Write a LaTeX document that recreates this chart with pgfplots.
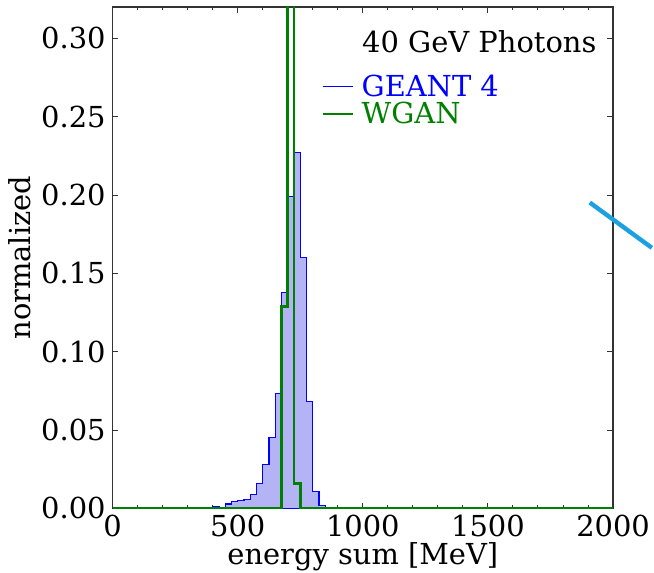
\documentclass[border=0pt]{standalone}
\usepackage{pgfplots}
\pgfplotsset{compat=1.18}
\usepackage{fontspec}
\setmainfont{DejaVu Serif}
\definecolor{mplgreen}{RGB}{0,128,0}
\definecolor{mplfill}{RGB}{179,179,245}
\definecolor{mplblue}{RGB}{0,0,255}
\definecolor{arrowblue}{RGB}{27,161,226}
\begin{document}
\begin{tikzpicture}
\begin{axis}[
  name=ax,
  scale only axis, width=251pt, height=251.5pt,
  xmin=0, xmax=2000, ymin=0, ymax=0.32,
  xtick={0,500,1000,1500,2000}, minor x tick num=4,
  ytick={0,0.05,0.10,0.15,0.20,0.25,0.30},
  tick align=inside, major tick length=2.8pt, minor tick length=1.6pt,
  tick style={black!80, line width=0.5pt},
  yticklabel style={/pgf/number format/fixed,/pgf/number format/fixed zerofill,/pgf/number format/precision=2},
  xticklabel style={/pgf/number format/1000 sep={}, inner xsep=0pt},
  /pgf/number format/assume math mode=true,
  tick label style={font=\fontsize{14.5}{17}\selectfont},
  label style={font=\fontsize{14.5}{17}\selectfont},
  xlabel={energy sum [MeV]}, ylabel={normalized},
  xlabel style={inner ysep=1pt, yshift=2pt},
  ylabel style={yshift=-1.5pt},
  axis line style={black!80, line width=0.6pt},
  legend style={draw=none, fill=none, at={(rel axis cs:0.416,0.874)}, anchor=north west,
    inner sep=0pt, font=\fontsize{14.5}{17}\selectfont, row sep=-2.5pt},
  legend cell align=left,
  clip mode=individual,
]
\addplot[const plot, draw=mplblue, line width=0.6pt, fill=mplfill,
  legend image code/.code={\draw[mplblue, line width=0.7pt] (0pt,0pt) -- (15.5pt,0pt);}]
 coordinates {
 (0,0) (400,0.0013) (425,0) (450,0.0028) (475,0.0042) (500,0.005) (525,0.0058)
 (550,0.0089) (575,0.016) (600,0.028) (625,0.045) (650,0.0735) (675,0.1377)
 (700,0.199) (725,0.227) (750,0.160) (775,0.068) (800,0.011) (825,0.0017)
 (850,0) (2000,0)} \closedcycle;
\addlegendentry{\hspace{1.5pt}\textcolor{mplblue}{GEANT 4}}
\addplot[const plot, draw=mplgreen, line width=1.3pt,
  legend image code/.code={\draw[mplgreen, line width=1.3pt] (0pt,0pt) -- (15.5pt,0pt);}]
 coordinates {
 (0,0) (675,0.129) (700,0.855) (725,0.016) (750,0) (2000,0)};
\addlegendentry{\hspace{1.5pt}\textcolor{mplgreen}{WGAN}}
\addplot[arrowblue, line width=2.2pt, clip=false, forget plot] coordinates {
 (1907,0.1952) (2155,0.1663)};
\node[anchor=base west, inner sep=0pt, font=\fontsize{14.5}{17}\selectfont]
  at (rel axis cs:0.498,0.9085) {40 GeV Photons};
\end{axis}
\path (ax.south west) +(-56.5pt,0pt) (ax.north east) +(0pt,3.5pt);
\end{tikzpicture}
\end{document}
